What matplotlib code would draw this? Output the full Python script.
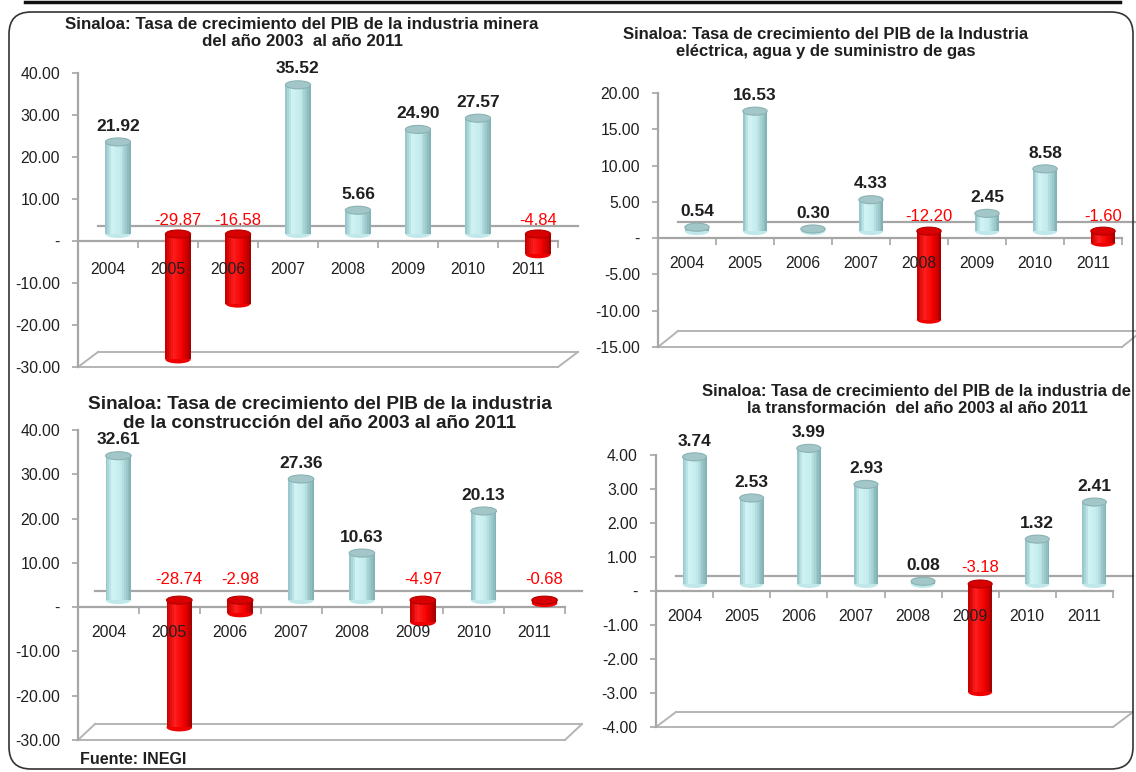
import matplotlib.pyplot as plt
import matplotlib.transforms as mtransforms
from matplotlib.patches import Ellipse, FancyBboxPatch
from matplotlib.colors import LinearSegmentedColormap
from matplotlib.ticker import FuncFormatter, FixedLocator, NullFormatter
import numpy as np

plt.rcParams['font.family'] = ['Liberation Sans', 'DejaVu Sans']

W, H = 1136, 772

years = ['2004', '2005', '2006', '2007', '2008', '2009', '2010', '2011']
minera = [21.92, -29.87, -16.58, 35.52, 5.66, 24.90, 27.57, -4.84]
electrica = [0.54, 16.53, 0.30, 4.33, -12.20, 2.45, 8.58, -1.60]
construccion = [32.61, -28.74, -2.98, 27.36, 10.63, -4.97, 20.13, -0.68]
transformacion = [3.74, 2.53, 3.99, 2.93, 0.08, -3.18, 1.32, 2.41]

TXT = '#1F1F1F'
AXC = '#A6A6A6'
POS_CMAP = LinearSegmentedColormap.from_list(
    'pos', [(0, '#98C8CB'), (0.25, '#D2F4F5'), (0.6, '#C2EAEC'), (1, '#84B3B6')])
NEG_CMAP = LinearSegmentedColormap.from_list(
    'neg', [(0, '#C80000'), (0.3, '#FF1E1E'), (0.7, '#F20000'), (1, '#A80000')])

fig = plt.figure(figsize=(W / 100, H / 100), dpi=100)
# pixel coordinates of the picture (y down) -> figure
px = mtransforms.Affine2D().scale(1, -1).translate(0, H).scale(1 / W, 1 / H) + fig.transFigure


def panel(box, values, ylim, ystep, title, title_xy, title_size,
          bar_off=(10, 7), back_off=(20, 15), lab_pad=15, neg_pad=1):
    left, right, top, bottom = box
    ymin, ymax = ylim
    ax = fig.add_axes([left / W, 1 - bottom / H, (right - left) / W, (bottom - top) / H])
    ax.patch.set_alpha(0)
    ax.set_xlim(-0.5, 7.5)
    ax.set_ylim(ymin, ymax)

    ux = (right - left) / 8.0          # px per category
    uy = (bottom - top) / (ymax - ymin)  # px per unit
    bdx, bdy = bar_off[0] / ux, bar_off[1] / uy
    kdx, kdy = back_off[0] / ux, back_off[1] / uy

    # floor and back zero line
    fl = dict(color='#B4B4B4', lw=1.4, clip_on=False, zorder=1)
    ax.plot([-0.5, 7.5], [ymin, ymin], **fl)
    ax.plot([-0.5 + kdx, 7.5 + kdx], [ymin + kdy, ymin + kdy], **fl)
    ax.plot([-0.5, -0.5 + kdx], [ymin, ymin + kdy], **fl)
    ax.plot([7.5, 7.5 + kdx], [ymin, ymin + kdy], **fl)
    ax.plot([-0.5 + kdx, 7.5 + kdx], [kdy, kdy], color=AXC, lw=1.6, clip_on=False, zorder=1)

    w = 0.42
    n = 14
    eh = 8 / uy
    for i, v in enumerate(values):
        c = i + bdx
        cmap = POS_CMAP if v >= 0 else NEG_CMAP
        body = '#C0E8EA' if v >= 0 else '#F00000'
        lo = min(0, v)
        hi = max(0, v)
        ax.add_patch(Ellipse((c, lo + bdy), w, eh, facecolor=body, edgecolor='none',
                             clip_on=False, zorder=3))
        xs = c - w / 2 + (np.arange(n) + 0.5) * w / n
        cols = [cmap(k / (n - 1)) for k in range(n)]
        ax.bar(xs, [hi - lo] * n, bottom=lo + bdy, width=w / n * 1.02, color=cols,
               linewidth=0, clip_on=False, zorder=4)
        top_fc = '#A3C7C8' if v >= 0 else '#D80000'
        top_ec = '#8AB2B4' if v >= 0 else '#B00000'
        ax.add_patch(Ellipse((c, hi + bdy), w, eh, facecolor=top_fc, edgecolor=top_ec,
                             lw=0.8, clip_on=False, zorder=5))
        if v >= 0:
            ax.annotate(f'{v:.2f}', (c, v + bdy), xytext=(0, 6), textcoords='offset points',
                        ha='center', va='bottom', fontsize=12.5, fontweight='bold',
                        color=TXT, zorder=6, annotation_clip=False)
        else:
            ax.annotate(f'{v:.2f}', (c, kdy), xytext=(0, neg_pad), textcoords='offset points',
                        ha='center', va='baseline', fontsize=12, color='#FF0000',
                        zorder=6, annotation_clip=False)

    # category labels drawn over the cylinders
    for i, yr in enumerate(years):
        ax.annotate(yr, (i, 0), xytext=(0, -lab_pad), textcoords='offset points',
                    ha='center', va='top', fontsize=11.3, color=TXT, zorder=7,
                    annotation_clip=False)

    for s in ['top', 'right']:
        ax.spines[s].set_visible(False)
    ax.spines['left'].set_color(AXC)
    ax.spines['left'].set_linewidth(1.6)
    ax.spines['bottom'].set_position(('data', 0))
    ax.spines['bottom'].set_color(AXC)
    ax.spines['bottom'].set_linewidth(1.6)
    ax.spines['bottom'].set_zorder(2)

    ax.yaxis.set_major_locator(FixedLocator(np.arange(ymin, ymax + ystep / 2, ystep)))
    ax.yaxis.set_major_formatter(FuncFormatter(lambda t, p: '-' if abs(t) < 1e-9 else f'{t:.2f}'))
    ax.tick_params(axis='y', direction='out', length=4, width=1.2, color=AXC,
                   labelsize=11.3, labelcolor=TXT, pad=9)

    ax.xaxis.set_major_locator(FixedLocator(np.arange(-0.5, 8, 1)))
    ax.xaxis.set_major_formatter(NullFormatter())
    ax.tick_params(axis='x', which='major', direction='out', length=5, width=1.2, color=AXC)

    fig.text(title_xy[0], title_xy[1], title, transform=px, ha='center', va='center',
             ma='center', fontsize=title_size, fontweight='bold', color=TXT, linespacing=1.2)
    return ax


panel((78, 558, 73, 367), minera, (-30, 40), 10,
      'Sinaloa: Tasa de crecimiento del PIB de la industria minera\ndel año 2003  al año 2011',
      (302, 33), 12.2)
panel((658, 1122, 93, 347), electrica, (-15, 20), 5,
      'Sinaloa: Tasa de crecimiento del PIB de la Industria\neléctrica, agua y de suministro de gas',
      (826, 43), 12, back_off=(20, 16), lab_pad=13)
panel((78, 565, 430, 740), construccion, (-30, 40), 10,
      'Sinaloa: Tasa de crecimiento del PIB de la industria\nde la construcción del año 2003 al año 2011',
      (320, 414), 13.7, back_off=(17, 16), lab_pad=13, neg_pad=5)
panel((656, 1113, 455, 727), transformacion, (-4, 4), 1,
      'Sinaloa: Tasa de crecimiento del PIB de la industria de\nla transformación  del año 2003 al año 2011',
      (917, 400), 12, back_off=(20, 15), lab_pad=13, neg_pad=3)

fig.text(80, 760, 'Fuente: INEGI', transform=px, ha='left', va='center',
         fontsize=11.5, fontweight='bold', color=TXT)

# frame
fig.add_artist(plt.Line2D([25, 1120], [2, 2], transform=px, color='#111111', lw=2.5))
fig.add_artist(FancyBboxPatch((9, 12), 1124, 757, boxstyle='round,pad=0,rounding_size=22',
                              transform=px, facecolor='none', edgecolor='#333333', lw=1.2))

fig.savefig('out.png', dpi=100)
